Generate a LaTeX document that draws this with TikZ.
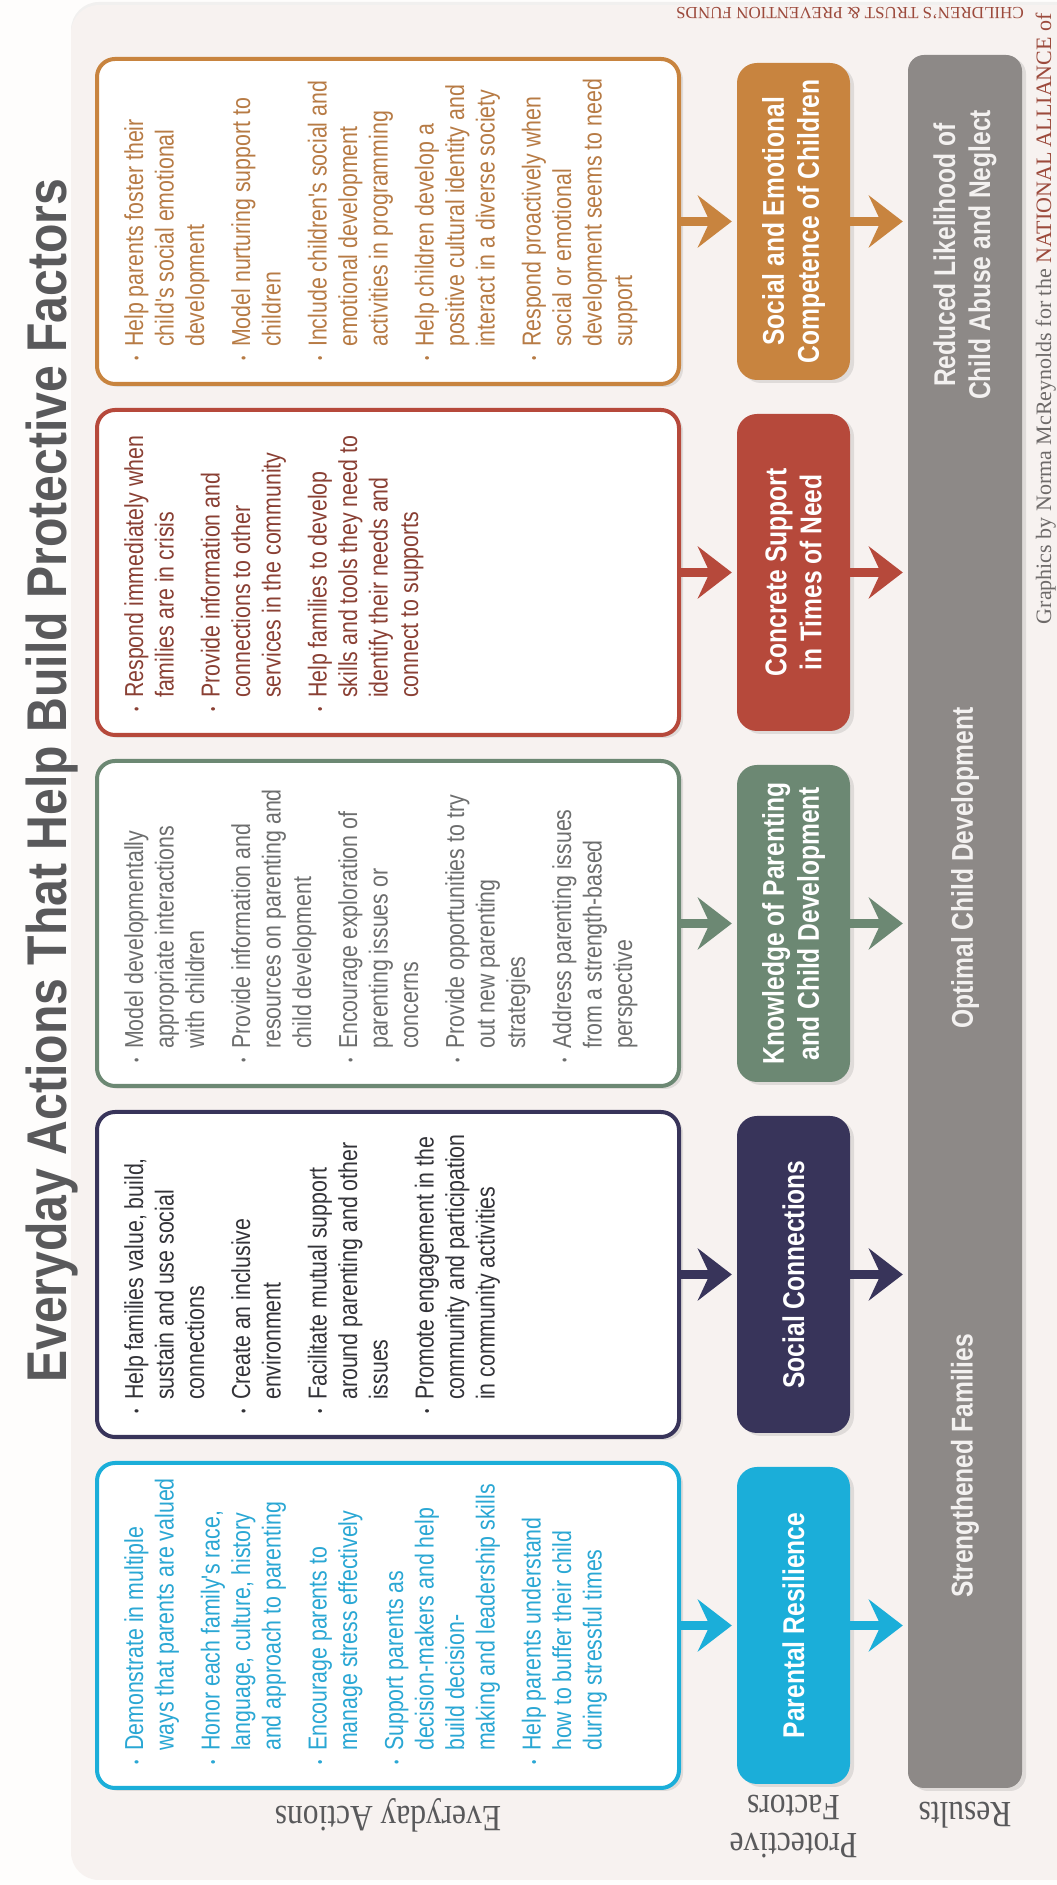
\documentclass[tikz,border=0pt]{standalone}
\usepackage{fontspec}
\setmainfont{Liberation Serif}
\newfontfamily\narrowsans{Liberation Sans}[FakeStretch=0.82]
\newfontfamily\titlesans{Liberation Sans}[FakeStretch=0.86]
\newfontfamily\labelserif{Liberation Serif}[FakeStretch=0.85]
\usetikzlibrary{arrows.meta, positioning, shadows}

\definecolor{pagebg}{HTML}{FEFDFC}
\definecolor{panelbg}{HTML}{F7F2F0}
\definecolor{titlegray}{HTML}{59595B}
\definecolor{cyanpf}{HTML}{1BAED9}
\definecolor{purplepf}{HTML}{38345A}
\definecolor{greenpf}{HTML}{6C8873}
\definecolor{redpf}{HTML}{B6493B}
\definecolor{orangepf}{HTML}{C8843F}
\definecolor{cyantext}{HTML}{2AA7D4}
\definecolor{purpletext}{HTML}{333338}
\definecolor{greentext}{HTML}{6D6E6E}
\definecolor{redtext}{HTML}{8A4034}
\definecolor{orangetext}{HTML}{B77B45}
\definecolor{resgray}{HTML}{8D8987}
\definecolor{resfont}{HTML}{F3F1F0}
\definecolor{credred}{HTML}{9C4A3C}
\definecolor{credgray}{HTML}{6E6A69}

% one bullet of an action list, lines broken with \\
\newcommand{\act}[1]{\par\begingroup\let\\\newline
  \hangindent=14pt\hangafter=1\noindent
  \makebox[14pt][l]{\raisebox{1.5pt}{\fontsize{15}{15}\selectfont\textbullet}}#1\par\endgroup}
\newcommand{\actlist}[1]{\begin{minipage}[t]{292pt}\raggedright
  \setlength{\parskip}{15.5pt}#1\end{minipage}}

\begin{document}
\begin{tikzpicture}[x=1pt, y=1pt, rotate=90, transform shape,
    actbox/.style={draw=#1, line width=4pt, fill=white, rounded corners=18pt,
        minimum width=325pt, minimum height=582pt,
        drop shadow={shadow xshift=4pt, shadow yshift=-3pt, opacity=.2}},
    acttext/.style={text=#1, inner sep=0pt,
        font=\narrowsans\fontsize{26}{30.5}\selectfont},
    factorbox/.style={fill=#1, rounded corners=20pt, minimum width=317pt,
        minimum height=113pt, text=white, align=center,
        font=\narrowsans\bfseries\fontsize{30}{35}\selectfont,
        drop shadow={shadow xshift=4pt, shadow yshift=-3pt, opacity=.2}},
    flowarrow/.style={draw=#1, line width=9pt, shorten >=5pt,
        -{Stealth[length=34pt, width=52pt, inset=12pt]}},
    restext/.style={text=resfont, align=center,
        font=\narrowsans\bfseries\fontsize{30}{35}\selectfont},
    rowlabel/.style={rotate=90, text=titlegray, align=center,
        font=\labelserif\fontsize{37}{38}\selectfont}
]
    \useasboundingbox (0,0) rectangle (1885,-1057);
    \fill[pagebg] (0,0) rectangle (1885,-1057);

    % background panel
    \fill[panelbg, rounded corners=28pt,
        drop shadow={shadow xshift=0pt, shadow yshift=3pt, opacity=.1}]
        (5,-71) rectangle (1880,-1100);

    % title
    \node[anchor=base west, inner sep=0pt, text=titlegray,
        font=\titlesans\bfseries\fontsize{56}{56}\selectfont]
        (title) at (502,-66) {Everyday Actions That Help Build Protective Factors};

    % everyday actions
    \node[actbox=cyanpf] (pa) at (259.5,-388) {};
    \node[actbox=purplepf] (sa) at (610.5,-388) {};
    \node[actbox=greenpf] (ka) at (961.5,-388) {};
    \node[actbox=redpf] (ca) at (1312.5,-388) {};
    \node[actbox=orangepf] (ea) at (1663.5,-388) {};

    \node[acttext=cyantext, below right=29pt and 25pt of pa.north west] (pa-t) {\actlist{%
        \act{Demonstrate in multiple\\ways that parents are valued}
        \act{Honor each family's race,\\language, culture, history\\and approach to parenting}
        \act{Encourage parents to\\manage stress effectively}
        \act{Support parents as\\decision-makers and help\\build decision-\\making and leadership skills}
        \act{Help parents understand\\how to buffer their child\\during stressful times}}};
    \node[acttext=purpletext, below right=29pt and 25pt of sa.north west] (sa-t) {\actlist{%
        \act{Help families value, build,\\sustain and use social\\connections}
        \act{Create an inclusive\\environment}
        \act{Facilitate mutual support\\around parenting and other\\issues}
        \act{Promote engagement in the\\community and participation\\in community activities}}};
    \node[acttext=greentext, below right=29pt and 25pt of ka.north west] (ka-t) {\actlist{%
        \act{Model developmentally\\appropriate interactions\\with children}
        \act{Provide information and\\resources on parenting and\\child development}
        \act{Encourage exploration of\\parenting issues or\\concerns}
        \act{Provide opportunities to try\\out new parenting\\strategies}
        \act{Address parenting issues\\from a strength-based\\perspective}}};
    \node[acttext=redtext, below right=29pt and 25pt of ca.north west] (ca-t) {\actlist{%
        \act{Respond immediately when\\families are in crisis}
        \act{Provide information and\\connections to other\\services in the community}
        \act{Help families to develop\\skills and tools they need to\\identify their needs and\\connect to supports}}};
    \node[acttext=orangetext, below right=29pt and 25pt of ea.north west] (ea-t) {\actlist{%
        \act{Help parents foster their\\child's social emotional\\development}
        \act{Model nurturing support to\\children}
        \act{Include children's social and\\emotional development\\activities in programming}
        \act{Help children develop a\\positive cultural identity and\\interact in a diverse society}
        \act{Respond proactively when\\social or emotional\\development seems to need\\support}}};

    % protective factors
    \node[factorbox=cyanpf] (pf) at (259.5,-793.5) {Parental Resilience};
    \node[factorbox=purplepf] (sf) at (610.5,-793.5) {Social Connections};
    \node[factorbox=greenpf] (kf) at (961.5,-793.5) {Knowledge of Parenting\\and Child Development};
    \node[factorbox=redpf] (cf) at (1312.5,-793.5) {Concrete Support\\in Times of Need};
    \node[factorbox=orangepf] (ef) at (1663.5,-793.5) {Social and Emotional\\Competence of Children};

    % results
    \node[fill=resgray, rounded corners=16pt, minimum width=1733pt, minimum height=114pt,
        drop shadow={shadow xshift=4pt, shadow yshift=-3pt, opacity=.2}]
        (res) at (963.5,-965) {};
    \node[restext] (res1) at (419,-965) {Strengthened Families};
    \node[restext] (res2) at (1017,-965) {Optimal Child Development};
    \node[restext] (res3) at (1630,-965) {Reduced Likelihood of\\Child Abuse and Neglect};

    \foreach \a/\f/\c in {pa/pf/cyanpf, sa/sf/purplepf, ka/kf/greenpf, ca/cf/redpf, ea/ef/orangepf} {
        \draw[flowarrow=\c] (\a.south) -- (\f.north);
        \draw[flowarrow=\c] (\f.south) -- (\f.south |- res.north);
    }

    % row labels
    \node[rowlabel] (lab1) at (70,-388) {Everyday Actions};
    \node[rowlabel] (lab2) at (58,-793.5) {Protective\\Factors};
    \node[rowlabel] (lab3) at (70,-965) {Results};

    % credit line
    \node[anchor=base east, inner sep=0pt, text=credgray,
        font=\fontsize{22}{22}\selectfont]
        (cred1) at (1872,-1051) {Graphics by Norma McReynolds for the \textcolor{credred}{NATIONAL ALLIANCE of}};
    \node[rotate=90, anchor=base west, inner sep=0pt, text=credred,
        font=\fontsize{17}{17}\selectfont]
        (cred2) at (1877,-1024) {CHILDREN'S TRUST \& PREVENTION FUNDS};
\end{tikzpicture}
\end{document}
